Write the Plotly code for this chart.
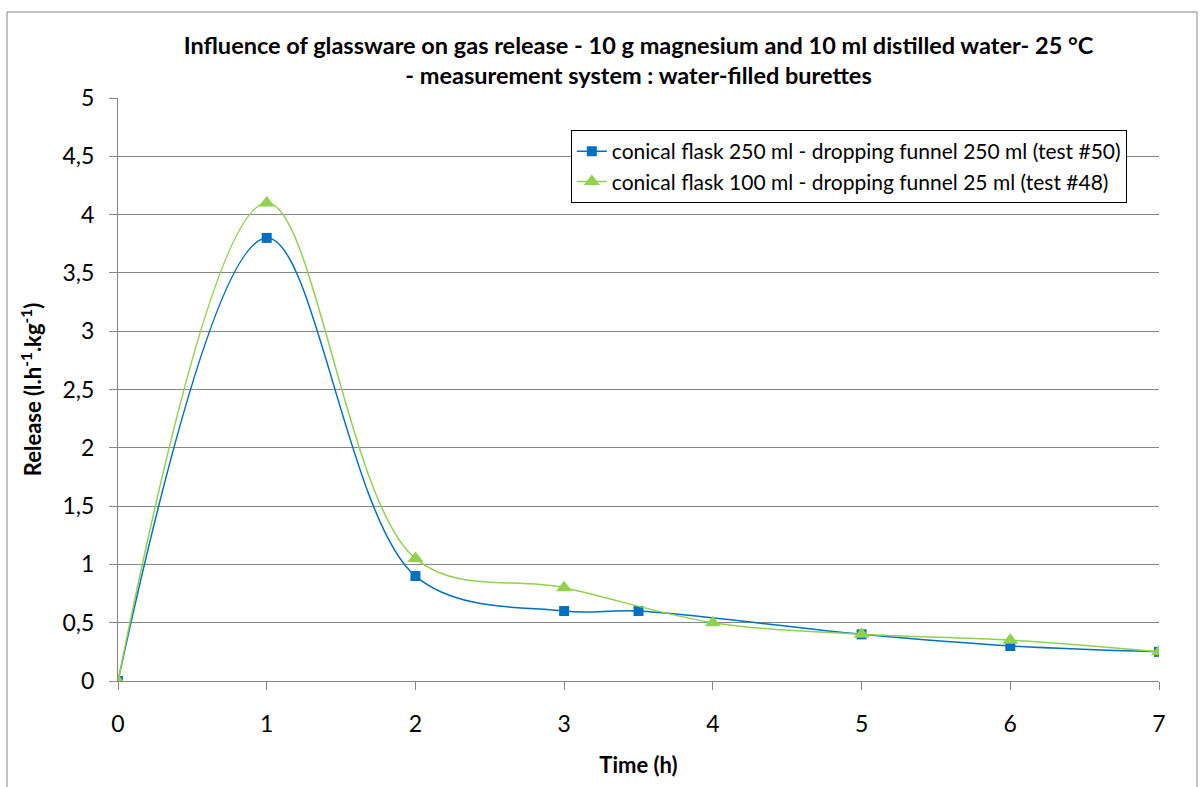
import plotly.graph_objects as go

# Data
blue_name = "conical flask 250 ml - dropping funnel 250 ml (test #50)"
blue_x = [0, 1, 2, 3, 3.5, 5, 6, 7]
blue_y = [0, 3.8, 0.9, 0.6, 0.6, 0.4, 0.3, 0.25]

green_name = "conical flask 100 ml - dropping funnel 25 ml (test #48)"
green_x = [0, 1, 2, 3, 4, 5, 6, 7]
green_y = [0, 4.1, 1.05, 0.8, 0.5, 0.4, 0.35, 0.25]

y_ticks = [0, 0.5, 1, 1.5, 2, 2.5, 3, 3.5, 4, 4.5, 5]
y_tick_labels = ["0", "0,5", "1", "1,5", "2", "2,5", "3", "3,5", "4", "4,5", "5"]
x_ticks = [0, 1, 2, 3, 4, 5, 6, 7]

FONT = "Lato"
fig = go.Figure()
fig.add_trace(go.Scatter(
    x=blue_x, y=blue_y, name=blue_name, mode="lines+markers",
    line=dict(color="#0070C0", width=1.5, shape="spline", smoothing=1),
    marker=dict(symbol="square", size=10, color="#0070C0"),
))
fig.add_trace(go.Scatter(
    x=green_x, y=green_y, name=green_name, mode="lines+markers",
    line=dict(color="#92D050", width=1.5, shape="spline", smoothing=1),
    marker=dict(symbol="triangle-up", size=14, color="#92D050"),
))

fig.update_layout(
    width=1201, height=787,
    margin=dict(l=118, r=42, t=98, b=106, autoexpand=False),
    paper_bgcolor="white", plot_bgcolor="white",
    font=dict(family=FONT, color="black"),
    title=dict(
        text="<b>Influence of glassware on gas release - 10 g magnesium and 10 ml distilled water- 25 °C<br>- measurement system : water-filled burettes</b>",
        x=0.5, xref="paper", xanchor="center", y=0.932, yref="container", yanchor="middle",
        font=dict(size=23.5, family=FONT),
    ),
    xaxis=dict(
        range=[0, 7], tickvals=x_ticks, showgrid=False,
        showline=True, linecolor="#868686", linewidth=1,
        ticks="outside", ticklen=8, tickcolor="#868686",
        ticklabelstandoff=14,
        tickfont=dict(size=23, family=FONT), zeroline=False,
        title=dict(text="<b>Time (h)</b>", font=dict(size=22, family=FONT), standoff=22),
    ),
    yaxis=dict(
        range=[0, 5], tickvals=y_ticks, ticktext=y_tick_labels,
        showgrid=True, gridcolor="#868686", gridwidth=1,
        showline=True, linecolor="#868686", linewidth=1,
        ticks="outside", ticklen=8, tickcolor="#868686",
        ticklabelstandoff=10,
        tickfont=dict(size=23, family=FONT), zeroline=False,
        title=dict(text="<b>Release (l.h<sup>-1</sup>.kg<sup>-1</sup>)</b>", font=dict(size=22, family=FONT), standoff=14),
    ),
    legend=dict(
        x=0.435, y=0.945, xanchor="left", yanchor="top",
        bgcolor="white", bordercolor="black", borderwidth=1,
        font=dict(size=21, family=FONT), tracegroupgap=0,
    ),
    shapes=[dict(type="rect", xref="paper", yref="paper",
                 x0=-0.1066, x1=1.0365, y0=-0.3, y1=1.1475,
                 line=dict(color="#868686", width=1), layer="below")],
)

fig.write_html("out.html", config={"displayModeBar": False},
               post_script="document.body.style.margin='0';")
